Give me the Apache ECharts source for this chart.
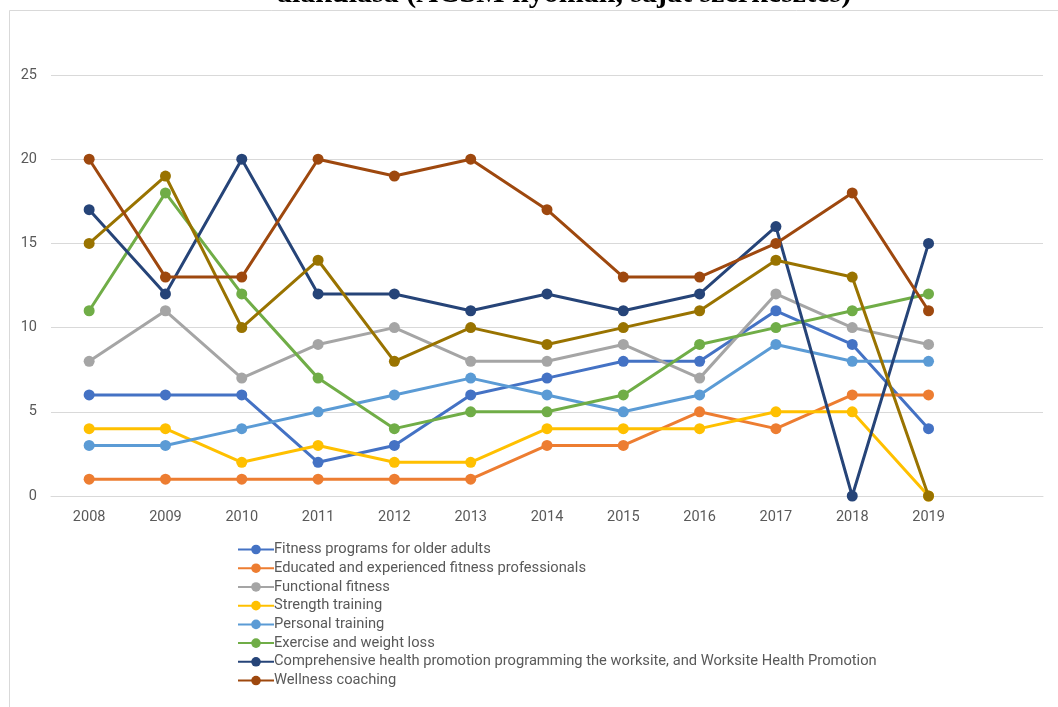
<!DOCTYPE html>
<html><head><meta charset="utf-8">
<script src="https://cdn.jsdelivr.net/npm/echarts@6/dist/echarts.min.js"></script>
<style>html,body{margin:0;padding:0;background:#fff}#c{width:1058px;height:707px}</style>
</head><body><div id="c"></div>
<script>
const years = ['2008','2009','2010','2011','2012','2013','2014','2015','2016','2017','2018','2019',''];
const titleText = 'alakulása (ACSM nyomán, saját szerkesztés)';
const names = [
  'Fitness programs for older adults',
  'Educated and experienced fitness professionals',
  'Functional fitness',
  'Strength training',
  'Personal training',
  'Exercise and weight loss',
  'Comprehensive health promotion programming the worksite, and Worksite Health Promotion',
  'Wellness coaching',
  'Other'
];
const olderAdults   = [6,6,6,2,3,6,7,8,8,11,9,4];
const educated      = [1,1,1,1,1,1,3,3,5,4,6,6];
const functional    = [8,11,7,9,10,8,8,9,7,12,10,9];
const strength      = [4,4,2,3,2,2,4,4,4,5,5,0];
const personal      = [3,3,4,5,6,7,6,5,6,9,8,8];
const exerciseLoss  = [11,18,12,7,4,5,5,6,9,10,11,12];
const comprehensive = [17,12,20,12,12,11,12,11,12,16,0,15];
const wellness      = [20,13,13,20,19,20,17,13,13,15,18,11];
const otherSeries   = [15,19,10,14,8,10,9,10,11,14,13,0];
const yTicks = [0,5,10,15,20,25];
const colors = ['#4472C4','#ED7D31','#A5A5A5','#FFC000','#5B9BD5','#70AD47','#264478','#9E480E','#997300'];
const allData = [olderAdults,educated,functional,strength,personal,exerciseLoss,comprehensive,wellness,otherSeries];

const chart = echarts.init(document.getElementById('c'), null, {renderer:'canvas'});
const font = 'Roboto, "Noto Sans", sans-serif';
chart.setOption({
  animation:false,
  backgroundColor:'#fff',
  graphic:[
    {type:'rect', shape:{x:9.5,y:10.5,width:1200,height:800}, style:{fill:'none',stroke:'#d9d9d9',lineWidth:1}, silent:true},
    {type:'text', left:277, top:-21, style:{text:titleText, font:'bold 30px "Liberation Serif", "DejaVu Serif", serif', fill:'#000'}}
  ],
  grid:{left:51,right:15,top:75,bottom:211,containLabel:false},
  xAxis:{type:'category',data:years,boundaryGap:true,
    axisLine:{show:true,lineStyle:{color:'#d9d9d9'}},axisTick:{show:false},
    axisLabel:{color:'#595959',fontSize:14.5,fontFamily:font,margin:14,interval:0}},
  yAxis:{type:'value',min:0,max:25,interval:5,
    axisLine:{show:false},axisTick:{show:false},
    splitLine:{lineStyle:{color:'#d9d9d9',width:1}},
    axisLabel:{color:'#595959',fontSize:14.5,fontFamily:font,margin:14,
      formatter:v=>yTicks.includes(v)?String(v):''}},
  legend:{orient:'vertical',left:232,top:537,itemWidth:36,itemHeight:12,itemGap:3.72,
    data:names.slice(0,8),
    textStyle:{color:'#595959',fontSize:14.7,lineHeight:14,fontFamily:font,padding:[0,0,0,-5]}},
  series: names.map((n,i)=>({
    name:n,type:'line',data:allData[i],
    symbol:'circle',symbolSize:11,
    itemStyle:{color:colors[i]},
    lineStyle:{color:colors[i],width:3},
    z: i===7?12:(i===8?11:2)
  }))
});
</script></body></html>
